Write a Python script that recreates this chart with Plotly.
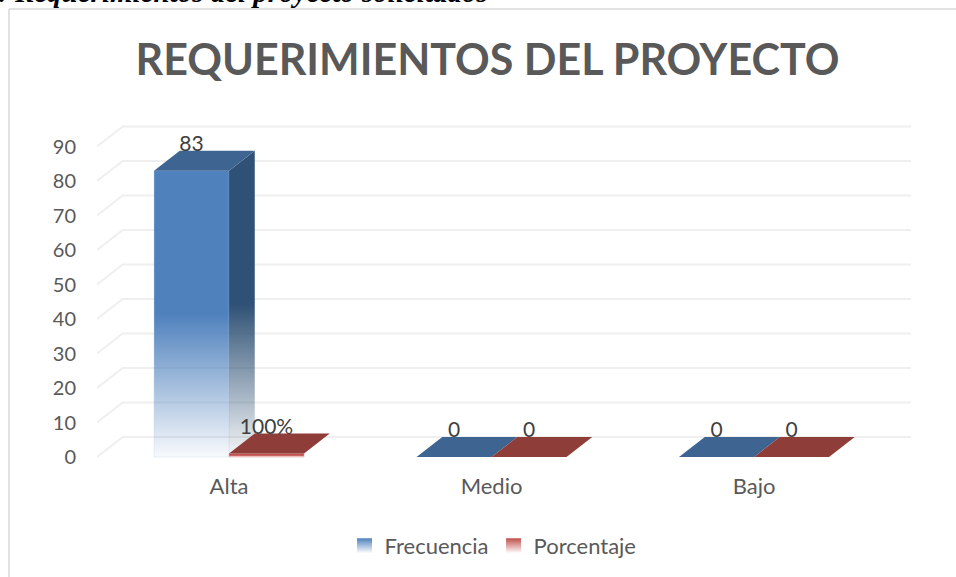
import plotly.graph_objects as go

categories = ["Alta", "Medio", "Bajo"]
frecuencia = [83, 0, 0]
porcentaje = [1, 0, 0]
frecuencia_labels = ["83", "0", "0"]
porcentaje_labels = ["100%", "0", "0"]
y_ticks = [0, 10, 20, 30, 40, 50, 60, 70, 80, 90]

# fake 3D: how far the back plane sits from the front, in axis units
DEPTH_X = 0.098
DEPTH_Y = 5.8
BAR_W = 0.2857
LABEL_LIFT = 1.4
GRID = "#efefef"
TEXT = "#595959"


def fade(rgb):
    return [
        [0, f"rgba({rgb},0.04)"],
        [0.5, f"rgba({rgb},1)"],
        [1, f"rgba({rgb},1)"],
    ]


def poly(fig, xs, ys, **kwargs):
    fig.add_trace(
        go.Scatter(
            x=xs,
            y=ys,
            mode="lines",
            fill="toself",
            showlegend=False,
            hoverinfo="skip",
            **kwargs,
        )
    )


def add_series(fig, values, labels, offset, front_rgb, side_rgb, top_color, edge):
    for i, v in enumerate(values):
        x0 = i + offset
        x1 = x0 + BAR_W
        if v > 0:
            poly(
                fig,
                [x0, x1, x1, x0, x0],
                [0, 0, v, v, 0],
                line=dict(color=edge, width=1),
                fillgradient=dict(type="vertical", colorscale=fade(front_rgb)),
            )
        # a very short bar has no side worth drawing, the lid covers it
        if v > DEPTH_Y:
            poly(
                fig,
                [x1, x1 + DEPTH_X, x1 + DEPTH_X, x1, x1],
                [0, DEPTH_Y, v + DEPTH_Y, v, 0],
                line=dict(width=0),
                fillgradient=dict(type="vertical", colorscale=fade(side_rgb)),
            )
        poly(
            fig,
            [x0, x1, x1 + DEPTH_X, x0 + DEPTH_X, x0],
            [v, v, v + DEPTH_Y, v + DEPTH_Y, v],
            line=dict(width=0),
            fillcolor=top_color,
        )
    fig.add_trace(
        go.Scatter(
            x=[i + offset + BAR_W / 2 for i in range(len(values))],
            y=[v + DEPTH_Y + LABEL_LIFT for v in values],
            mode="text",
            text=labels,
            textposition="middle center",
            textfont=dict(family="Lato", size=21, color="#404040"),
            showlegend=False,
            hoverinfo="skip",
        )
    )


fig = go.Figure()

# gridlines: short diagonal on the floor side, then along the back wall
x_left, x_right = -0.503, 2.598
for t in y_ticks:
    fig.add_trace(
        go.Scatter(
            x=[x_left, x_left + DEPTH_X, x_right],
            y=[t, t + DEPTH_Y, t + DEPTH_Y],
            mode="lines",
            line=dict(color=GRID, width=2),
            showlegend=False,
            hoverinfo="skip",
        )
    )

add_series(fig, frecuencia, frecuencia_labels, -BAR_W, "79,129,189", "47,81,117", "#3e6491", "rgba(185,205,229,0.3)")
add_series(fig, porcentaje, porcentaje_labels, 0, "192,80,77", "120,50,48", "#8e3d38", "rgba(230,160,160,0.5)")

# legend entries
for name, color in [("Frecuencia", "#4f81bd"), ("Porcentaje", "#c0504d")]:
    fig.add_trace(
        go.Scatter(
            x=[None],
            y=[None],
            mode="markers",
            name=name,
            marker=dict(
                symbol="square",
                size=15,
                color=color,
                line=dict(width=0),
                gradient=dict(type="vertical", color="#ffffff"),
            ),
        )
    )

fig.update_layout(
    width=956,
    height=577,
    margin=dict(l=97, r=45, t=120, b=115),
    paper_bgcolor="white",
    plot_bgcolor="white",
    font=dict(family="Lato", size=20, color=TEXT),
    xaxis=dict(
        range=[x_left, x_right],
        tickmode="array",
        tickvals=[0, 1, 2],
        ticktext=categories,
        tickfont=dict(size=22),
        showgrid=False,
        zeroline=False,
        showline=False,
        ticks="outside",
        ticklen=5,
        tickcolor="rgba(0,0,0,0)",
    ),
    yaxis=dict(
        range=[-1.45, 97.68],
        tickmode="array",
        tickvals=y_ticks,
        showgrid=False,
        zeroline=False,
        showline=False,
        ticks="outside",
        ticklen=16,
        tickcolor="rgba(0,0,0,0)",
    ),
    title=dict(
        text="<b>REQUERIMIENTOS DEL PROYECTO</b>",
        font=dict(family="Lato", size=43, color=TEXT),
        xref="container",
        yref="container",
        x=487.5 / 956,
        y=1 - 60 / 577,
        xanchor="center",
        yanchor="middle",
    ),
    legend=dict(
        orientation="h",
        xref="container",
        yref="container",
        x=493 / 956,
        y=1 - 546 / 577,
        xanchor="center",
        yanchor="middle",
        font=dict(family="Lato", size=22, color=TEXT),
    ),
    annotations=[
        dict(
            text="<b><i>: Requerimientos del proyecto solicitados</i></b>",
            xref="paper",
            yref="paper",
            x=-101 / 814,
            y=1 + 110 / 342,
            xanchor="left",
            yanchor="bottom",
            showarrow=False,
            font=dict(family="Liberation Serif", size=29, color="black"),
        )
    ],
    shapes=[
        dict(type="line", xref="paper", yref="paper", x0=-88 / 814, x1=859 / 814, y0=1 + 111 / 342, y1=1 + 111 / 342, line=dict(color="#d9d9d9", width=1.5)),
        dict(type="line", xref="paper", yref="paper", x0=-88 / 814, x1=-88 / 814, y0=-115 / 342, y1=1 + 111 / 342, line=dict(color="#d9d9d9", width=1.5)),
    ],
)

fig.write_html(
    "out.html",
    config={"displayModeBar": False},
    post_script="document.body.style.margin='0';",
)
